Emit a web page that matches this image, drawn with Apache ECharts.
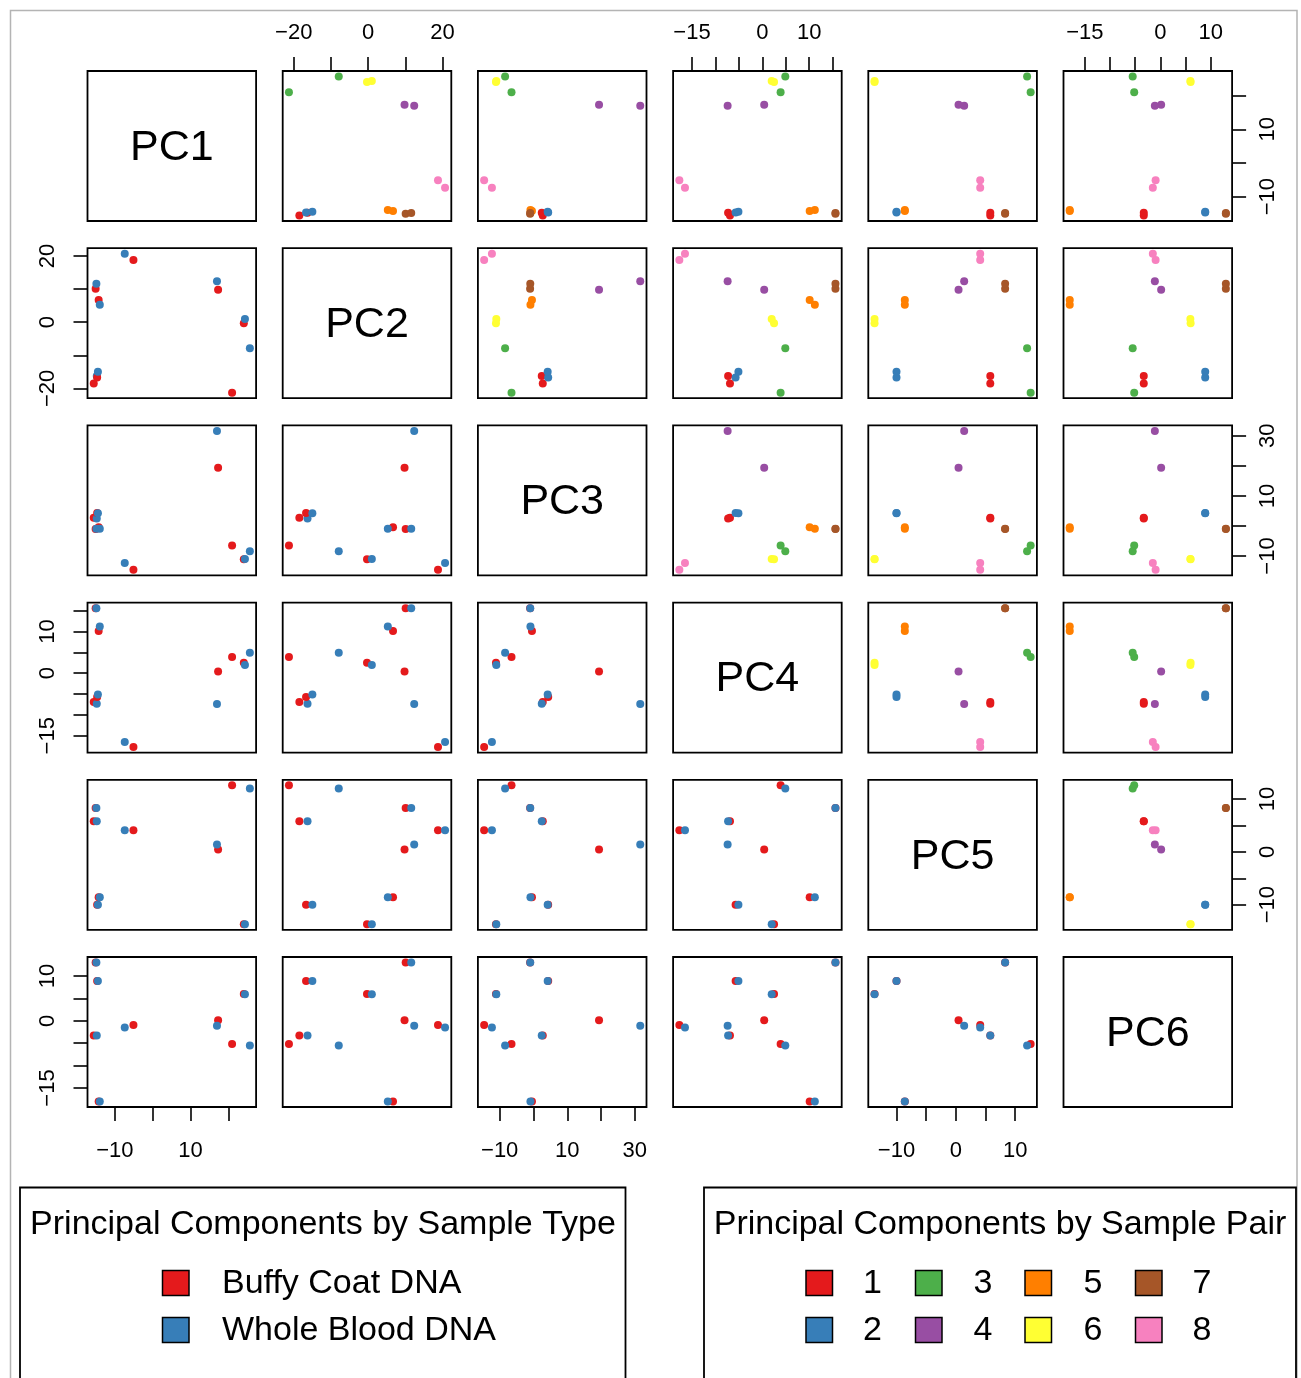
<!DOCTYPE html>
<html><head><meta charset="utf-8">
<script src="https://cdn.jsdelivr.net/npm/echarts@6/dist/echarts.min.js"></script>
<style>html,body{margin:0;padding:0;background:#fff}#c{width:1301px;height:1378px}</style>
</head><body><div id="c"></div>
<script>
// ---------- data ----------
const varNames = ['PC1', 'PC2', 'PC3', 'PC4', 'PC5', 'PC6'];
const typeNames = ['Buffy Coat DNA', 'Whole Blood DNA'];
const pairNames = ['1', '2', '3', '4', '5', '6', '7', '8'];
// sample order: pair 1 (B, W), pair 2 (B, W), ... pair 8 (B, W)
const sampleType = [0,1, 0,1, 0,1, 0,1, 0,1, 0,1, 0,1, 0,1];
const samplePair = [0,0, 1,1, 2,2, 3,3, 4,4, 5,5, 6,6, 7,7];
const PC1 = [-15.6, -14.8, -14.7, -14.5, 21.0, 25.7, 17.3, 17.0, -14.3, -14.0, 24.1, 24.4, -15.1, -14.9, -5.1, -7.4];
const PC2 = [-18.5, -16.3, -16.7, -15.0, -21.3, -7.9, 9.8, 12.4, 6.7, 5.3, -0.3, 1.0, 10.1, 11.6, 18.8, 20.7];
const PC3 = [2.75, 2.45, 4.35, 4.2, -6.5, -8.4, 19.4, 31.6, -0.45, -0.9, -11.1, -11.0, -1.0, -0.95, -14.6, -12.3];
const PC4 = [-6.9, -7.3, -5.7, -5.1, 3.9, 4.9, 0.4, -7.4, 10.1, 11.2, 2.5, 2.0, 15.6, 15.6, -17.7, -16.5];
const PC5 = [5.8, 5.8, -10.0, -10.0, 12.6, 12.0, 0.45, 1.4, -8.6, -8.6, -13.7, -13.7, 8.3, 8.3, 4.1, 4.1];
const PC6 = [-3.3, -3.3, 8.9, 8.9, -5.2, -5.5, 0.15, -1.1, -18.0, -18.0, 6.0, 5.95, 13.0, 13.0, -0.95, -1.5];
const pcs = [PC1, PC2, PC3, PC4, PC5, PC6];
// tick marks and labelled ticks for each variable
const ticksPC1 = [-10, 0, 10, 20],            labelsPC1 = [-10, 10];
const ticksPC2 = [-20, -10, 0, 10, 20],       labelsPC2 = [-20, 0, 20];
const ticksPC3 = [-10, 0, 10, 20, 30],        labelsPC3 = [-10, 10, 30];
const ticksPC4 = [-15, -10, -5, 0, 5, 10, 15], labelsPC4 = [-15, 0, 10];
const ticksPC5 = [-10, -5, 0, 5, 10],         labelsPC5 = [-10, 0, 10];
const ticksPC6 = [-15, -10, -5, 0, 5, 10],    labelsPC6 = [-15, 0, 10];
const ticks = [ticksPC1, ticksPC2, ticksPC3, ticksPC4, ticksPC5, ticksPC6];
const tickLabels = [labelsPC1, labelsPC2, labelsPC3, labelsPC4, labelsPC5, labelsPC6];
const typeColors = ['#E41A1C', '#377EB8'];
const pairColors = ['#E41A1C', '#377EB8', '#4DAF4A', '#984EA3', '#FF7F00', '#FFFF33', '#A65628', '#F781BF'];
const legendTypeTitle = 'Principal Components by Sample Type';
const legendPairTitle = 'Principal Components by Sample Pair';

// ---------- layout ----------
const FONT = '"Liberation Sans", Arial, Helvetica, sans-serif';
const L0 = 87.5, T0 = 71, DX = 195.2, DY = 177.2, W = 168.6, H = 150;
const ranges = pcs.map(a => {
  const lo = Math.min(...a), hi = Math.max(...a), d = hi - lo;
  return [lo - 0.04 * d, hi + 0.04 * d];
});
const fmt = v => String(v).replace('-', '\u2212');

const grids = [], xAxes = [], yAxes = [], series = [];
function axisDef(v, g, pos, isY) {
  const shown = !!pos;
  const a = {
    type: 'value', gridIndex: g, min: ranges[v][0], max: ranges[v][1],
    show: shown, splitLine: { show: false }, axisLine: { show: false, onZero: false },
    axisTick: { show: shown, length: 14, lineStyle: { color: '#000', width: 1.6 }, customValues: ticks[v] },
    axisLabel: { show: shown, customValues: tickLabels[v], formatter: fmt, color: '#000', fontSize: 22, fontFamily: FONT }
  };
  if (pos) a.position = pos;
  if (isY) { a.axisLabel.rotate = 90; a.axisLabel.margin = pos === 'left' ? 29 : 25; }
  else { a.axisLabel.margin = pos === 'top' ? 27 : 33; }
  return a;
}
let g = 0;
for (let i = 0; i < 6; i++) {
  for (let j = 0; j < 6; j++) {
    if (i === j) continue;
    grids.push({ left: L0 + j * DX, top: T0 + i * DY, width: W, height: H, show: true,
      borderColor: '#000', borderWidth: 1.8, backgroundColor: 'transparent', containLabel: false, outerBoundsMode: 'none' });
    const xPos = (i === 0 && j % 2 === 1) ? 'top' : ((i === 5 && j % 2 === 0) ? 'bottom' : null);
    const yPos = (j === 0 && i % 2 === 1) ? 'left' : ((j === 5 && i % 2 === 0) ? 'right' : null);
    xAxes.push(axisDef(j, g, xPos, false));
    yAxes.push(axisDef(i, g, yPos, true));
    const upper = j > i;
    series.push({
      type: 'scatter', xAxisIndex: g, yAxisIndex: g, symbol: 'circle', symbolSize: 8, silent: true,
      data: PC1.map((_, k) => ({
        value: [pcs[j][k], pcs[i][k]],
        itemStyle: { color: upper ? pairColors[samplePair[k]] : typeColors[sampleType[k]], opacity: 1 }
      }))
    });
    g++;
  }
}

const graphics = [];
// outer frame
graphics.push({ type: 'rect', shape: { x: 10.5, y: 10.5, width: 1286.5, height: 1390 }, style: { fill: 'none', stroke: '#b4b4b4', lineWidth: 1.5 }, silent: true });
// diagonal panels
for (let i = 0; i < 6; i++) {
  const x = L0 + i * DX, y = T0 + i * DY;
  graphics.push({ type: 'rect', shape: { x: x, y: y, width: W, height: H }, style: { fill: 'none', stroke: '#000', lineWidth: 1.8 } });
  graphics.push({ type: 'text', x: x + W / 2, y: y + H / 2 + 2, style: { text: varNames[i], font: '43px ' + FONT, fill: '#000', textAlign: 'center', textVerticalAlign: 'middle', align: 'center', verticalAlign: 'middle' } });
}
// legend boxes
const LY = 1187.5, LH = 200;
graphics.push({ type: 'rect', shape: { x: 20, y: LY, width: 605.5, height: LH }, style: { fill: '#fff', stroke: '#000', lineWidth: 1.8 } });
graphics.push({ type: 'rect', shape: { x: 704, y: LY, width: 592, height: LH }, style: { fill: '#fff', stroke: '#000', lineWidth: 1.8 } });
const tstyle = (t, x, y, al) => ({ type: 'text', x: x, y: y, style: { text: t, font: '34px ' + FONT, fill: '#000', textAlign: al, textVerticalAlign: 'middle', align: al, verticalAlign: 'middle' } });
graphics.push(tstyle(legendTypeTitle, 323, 1225, 'center'));
graphics.push(tstyle(legendPairTitle, 1000, 1225, 'center'));
const rowY = [1283, 1330];
typeNames.forEach((n, k) => {
  graphics.push({ type: 'rect', shape: { x: 162.5, y: rowY[k] - 12.5, width: 26.5, height: 25 }, style: { fill: typeColors[k], stroke: '#000', lineWidth: 1.5 } });
  graphics.push(tstyle(n, 222, rowY[k] + 1, 'left'));
});
const swX = [806, 915.5, 1025, 1135.5], labX = [872.5, 983, 1093, 1202];
pairNames.forEach((n, k) => {
  const c = Math.floor(k / 2), r = k % 2;
  graphics.push({ type: 'rect', shape: { x: swX[c], y: rowY[r] - 12.5, width: 26.5, height: 25 }, style: { fill: pairColors[k], stroke: '#000', lineWidth: 1.5 } });
  graphics.push(tstyle(n, labX[c], rowY[r] + 1, 'center'));
});

const chart = echarts.init(document.getElementById('c'), null, { renderer: 'canvas' });
chart.setOption({
  backgroundColor: '#fff', animation: false,
  grid: grids, xAxis: xAxes, yAxis: yAxes, series: series, graphic: graphics
});
</script>
</body></html>
